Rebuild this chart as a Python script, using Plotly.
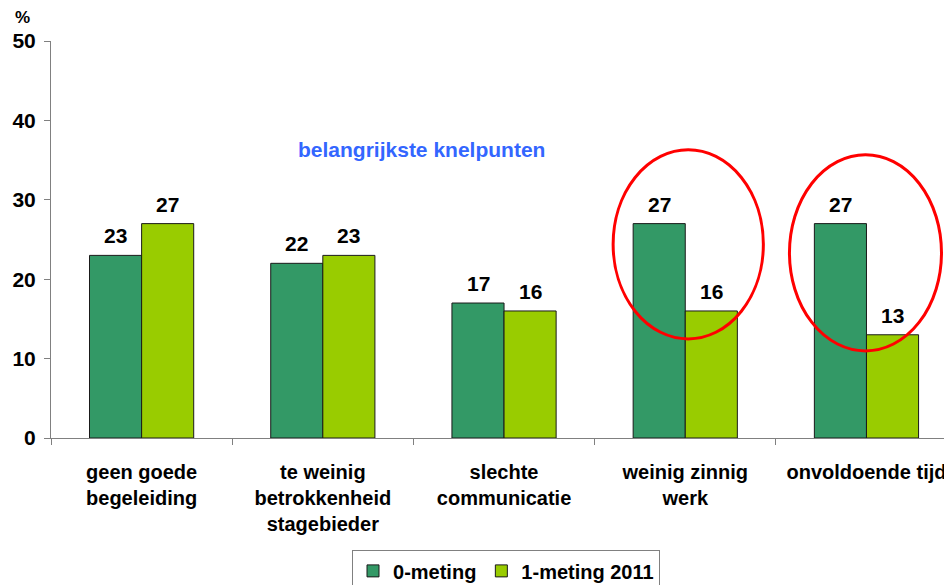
import plotly.graph_objects as go

categories = ["geen goede<br>begeleiding", "te weinig<br>betrokkenheid<br>stagebieder",
              "slechte<br>communicatie", "weinig zinnig<br>werk", "onvoldoende tijd"]
series_names = ["0-meting", "1-meting 2011"]
meting0 = [23, 22, 17, 27, 27]
meting1 = [27, 23, 16, 16, 13]
y_ticks = [0, 10, 20, 30, 40, 50]

FONT = "Liberation Sans, Arial, sans-serif"
FS = 21
dark = "#339966"
light = "#99CC00"

fig = go.Figure()
for name, vals, col in [(series_names[0], meting0, dark), (series_names[1], meting1, light)]:
    fig.add_trace(go.Bar(
        name=name, x=categories, y=vals,
        marker=dict(color=col, line=dict(color="#1a1a1a", width=1)),
    ))

# value labels above each bar
BAR_PX = 26
for vals, shift in [(meting0, -BAR_PX), (meting1, BAR_PX)]:
    for c, v in zip(categories, vals):
        fig.add_annotation(x=c, y=v, text=str(v), xshift=shift, yshift=6, yanchor="bottom",
                           showarrow=False,
                           font=dict(family=FONT, size=FS, color="black", weight="bold"))

fig.update_layout(
    width=944, height=577,
    paper_bgcolor="white", plot_bgcolor="white",
    margin=dict(l=43, r=0, t=33, b=147),
    barmode="group", bargap=0.425, bargroupgap=0,
    font=dict(family=FONT, size=FS, color="black", weight="bold"),
    showlegend=True,
    legend=dict(orientation="h", x=0.505, xanchor="center", yref="container", y=0.06, yanchor="top",
                bordercolor="#808080", borderwidth=1,
                font=dict(family=FONT, size=20, color="black", weight="bold"),
                itemwidth=30, tracegroupgap=0),
    xaxis=dict(type="category", range=[-0.5, 4.472], showline=True, linecolor="#808080", linewidth=1,
               ticks="outside", tickson="boundaries", ticklen=6, tickcolor="#808080",
               showgrid=False, zeroline=False, automargin=False, ticklabelstandoff=16,
               tickfont=dict(family=FONT, size=20, color="black", weight="bold")),
    yaxis=dict(range=[0, 50], tickvals=y_ticks, showline=True, linecolor="#808080", linewidth=1,
               ticks="outside", ticklen=6, tickcolor="#808080", showgrid=False, zeroline=False,
               automargin=False,
               tickfont=dict(family=FONT, size=FS, color="black", weight="bold"),
               ticklabelstandoff=4),
)

fig.add_annotation(text="%", xref="paper", yref="paper", x=-0.042, y=1.03, xanchor="left", yanchor="bottom",
                   showarrow=False, font=dict(family=FONT, size=17, color="black", weight="bold"))
fig.add_annotation(text="belangrijkste knelpunten", xref="x", yref="y", x=1.547, y=36.3,
                   showarrow=False, font=dict(family=FONT, size=FS, color="#3366FF", weight="bold"))

for x0, x1, y0, y1 in [(2.602, 3.431, 12.48, 36.3), (3.575, 4.414, 10.97, 35.67)]:
    fig.add_shape(type="circle", xref="x", yref="y", x0=x0, x1=x1, y0=y0, y1=y1,
                  line=dict(color="#FF0000", width=3))

fig.write_html("out.html")
